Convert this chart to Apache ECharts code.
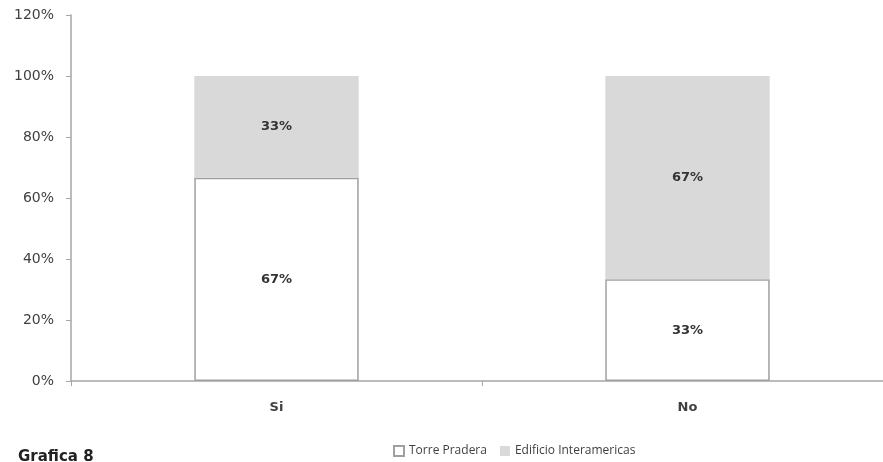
<!DOCTYPE html>
<html>
<head>
<meta charset="utf-8">
<script src="https://cdn.jsdelivr.net/npm/echarts@6/dist/echarts.min.js"></script>
<style>
  html, body { margin: 0; padding: 0; background: #fff; overflow: hidden; }
  #chart { width: 893px; height: 462px; }
</style>
</head>
<body>
<div id="chart"></div>
<script>
// Survey answers by building (share of responses)
const categories = ['Si', 'No'];
const torrePradera = [66.67, 33.33];
const edificioInteramericas = [33.33, 66.67];
const seriesNames = ['Torre Pradera', 'Edificio Interamericas'];

const chart = echarts.init(document.getElementById('chart'));
const wideFont = '"DejaVu Sans", sans-serif';
const legendFont = '"Open Sans", sans-serif';
const axisGray = '#a6a6a6';
const textColor = '#404040';

const pctLabel = {
  show: true,
  position: 'inside',
  formatter: p => Math.round(p.value) + '%',
  color: '#333',
  fontSize: 13,
  fontWeight: 'bold',
  fontFamily: wideFont
};

chart.setOption({
  animation: false,
  backgroundColor: '#fff',
  title: {
    text: 'Grafica 8',
    left: 13,
    top: 445,
    textStyle: { fontSize: 15, fontWeight: 'bold', color: '#222', fontFamily: wideFont }
  },
  legend: {
    data: seriesNames,
    icon: 'rect',
    left: 388,
    top: 440,
    itemWidth: 10,
    itemHeight: 10,
    itemGap: 13,
    textStyle: { fontSize: 12, color: textColor, fontFamily: legendFont }
  },
  grid: { left: 71, right: 0, top: 15, bottom: 81, containLabel: false },
  xAxis: {
    type: 'category',
    data: categories,
    axisLine: { lineStyle: { color: axisGray, width: 1.5 } },
    axisTick: { show: true, alignWithLabel: false, length: 5, lineStyle: { color: axisGray } },
    axisLabel: { color: textColor, fontSize: 13, fontWeight: 'bold', margin: 20, fontFamily: wideFont }
  },
  yAxis: {
    type: 'value',
    min: 0,
    max: 120,
    interval: 20,
    axisLine: { show: true, lineStyle: { color: axisGray, width: 1.5 } },
    axisTick: { show: true, length: 5, lineStyle: { color: axisGray } },
    splitLine: { show: false },
    axisLabel: { formatter: '{value}%', color: textColor, fontSize: 14, margin: 17, fontFamily: wideFont }
  },
  series: [
    {
      name: seriesNames[0],
      type: 'bar',
      stack: 'total',
      barWidth: '40%',
      data: torrePradera,
      itemStyle: { color: '#ffffff', borderColor: '#a0a0a0', borderWidth: 1.5 },
      label: pctLabel
    },
    {
      name: seriesNames[1],
      type: 'bar',
      stack: 'total',
      barWidth: '40%',
      data: edificioInteramericas,
      itemStyle: { color: '#d9d9d9' },
      label: pctLabel
    }
  ]
});
</script>
</body>
</html>
